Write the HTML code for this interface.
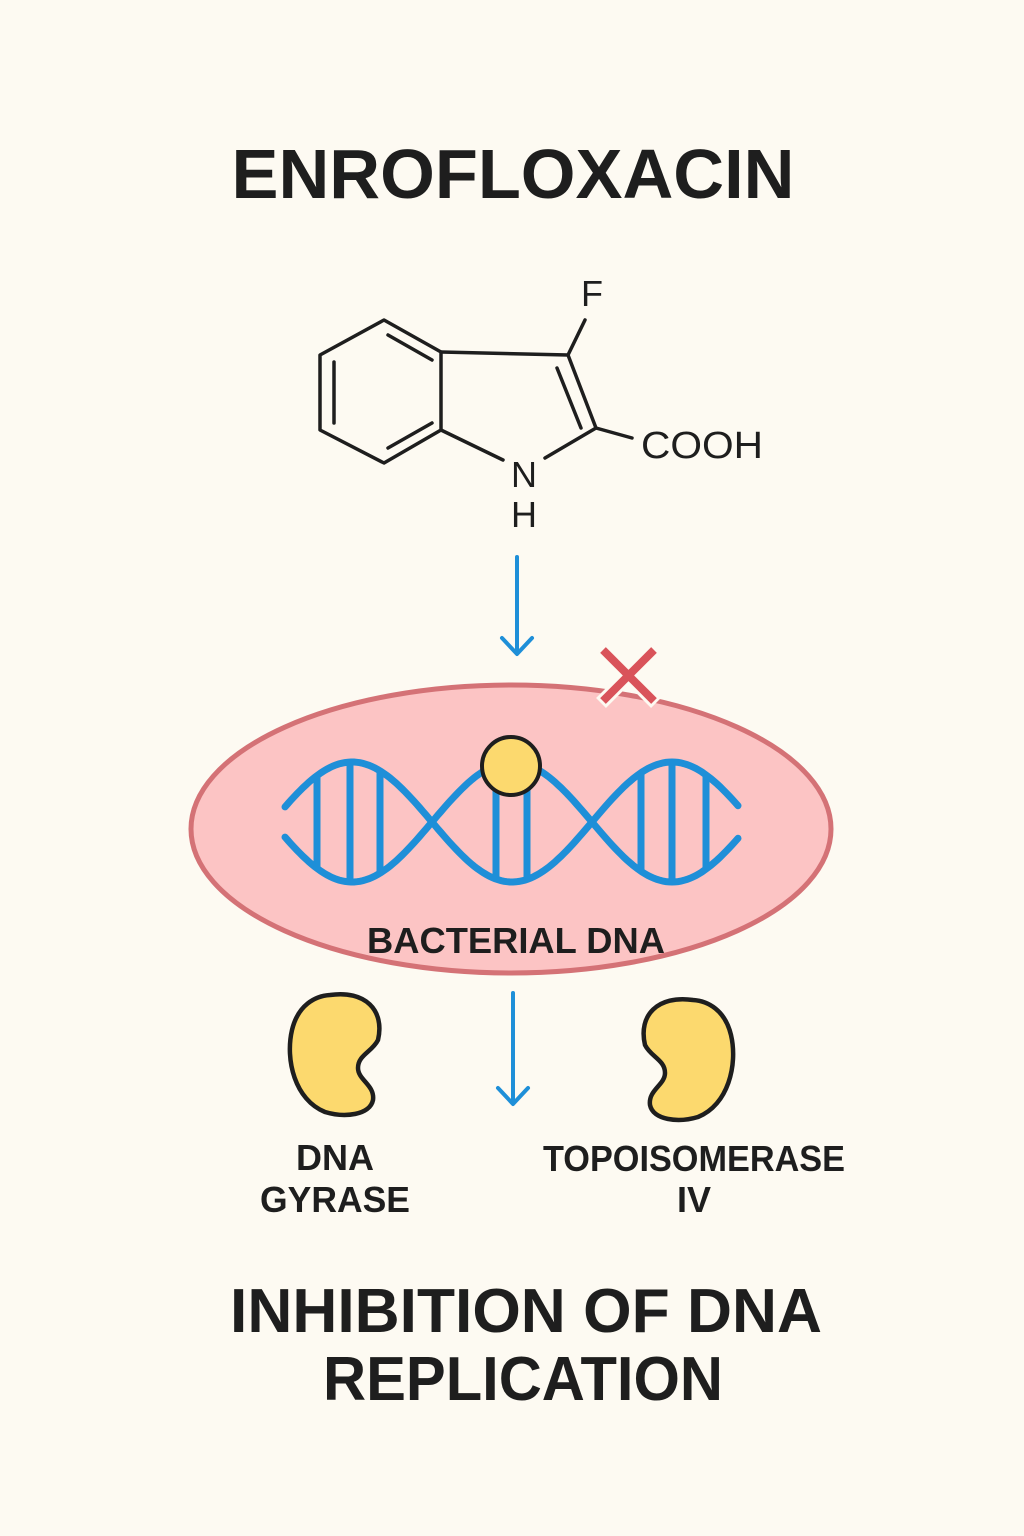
<!DOCTYPE html>
<html><head><meta charset="utf-8"><style>
html,body{margin:0;padding:0;background:#fdfaf2;}
svg{display:block;}
text{font-family:"Liberation Sans",sans-serif;font-weight:bold;fill:#1e1e1e;}
text.n{font-weight:normal;}
</style></head><body>
<svg id="s" width="1024" height="1536" viewBox="0 0 1024 1536" xmlns="http://www.w3.org/2000/svg">
<rect width="1024" height="1536" fill="#fdfaf2"/>
<text x="513" y="198" font-size="70" text-anchor="middle" textLength="563" lengthAdjust="spacingAndGlyphs">ENROFLOXACIN</text>
<g fill="none" stroke="#1e1e1e" stroke-width="3.5" stroke-linejoin="round" stroke-linecap="round">
<polygon points="320,355 384,320 441,352 441,430 384,463 320,430"/>
<line x1="334" y1="362" x2="334" y2="423"/>
<line x1="388" y1="335" x2="432" y2="360"/>
<line x1="388" y1="448" x2="432" y2="423"/>
<polyline points="441,352 568,355 596,428 545,458"/>
<line x1="441" y1="430" x2="503" y2="460"/>
<line x1="557" y1="368" x2="581" y2="428"/>
<line x1="568" y1="355" x2="585" y2="320"/>
<line x1="596" y1="428" x2="632" y2="438"/>
</g>
<text class="n" x="592" y="306" font-size="36" text-anchor="middle">F</text>
<text class="n" x="702" y="458" font-size="38" text-anchor="middle" textLength="122" lengthAdjust="spacingAndGlyphs">COOH</text>
<text class="n" x="524" y="487" font-size="36" text-anchor="middle">N</text>
<text class="n" x="524" y="527" font-size="36" text-anchor="middle">H</text>
<g stroke="#1e8fd8" stroke-width="4" fill="none" stroke-linecap="round" stroke-linejoin="round">
<line x1="517" y1="557" x2="517" y2="653"/>
<polyline points="502,638 517,654 532,638"/>
<line x1="513" y1="993" x2="513" y2="1103"/>
<polyline points="498,1088 513,1104 528,1088"/>
</g>
<ellipse cx="511" cy="829" rx="320" ry="144" fill="#fcc4c4" stroke="#d47276" stroke-width="5"/>
<g stroke="#fdfaf2" stroke-width="14" stroke-linecap="butt">
<line x1="601" y1="648" x2="656" y2="703"/><line x1="656" y1="648" x2="601" y2="703"/>
</g>
<g stroke="#d9535a" stroke-width="8">
<line x1="603" y1="650" x2="654" y2="701"/><line x1="654" y1="650" x2="603" y2="701"/>
</g>
<g id="dna" stroke="#1e8fd8" stroke-width="7" fill="none" stroke-linecap="round"></g>
<ellipse cx="511" cy="766" rx="29" ry="29" fill="#fcd96e" stroke="#1e1e1e" stroke-width="4"/>
<text x="516" y="953" font-size="36" text-anchor="middle" textLength="298" lengthAdjust="spacingAndGlyphs">BACTERIAL DNA</text>
<g fill="#fcd96e" stroke="#1e1e1e" stroke-width="4.5">
<path d="M330,995 C365,990 385,1010 378,1040 C372,1052 358,1055 358,1068 C358,1080 375,1085 373,1100 C370,1115 345,1118 325,1112 C295,1100 285,1060 292,1030 C298,1005 315,996 330,995 Z"/>
<path d="M330,995 C365,990 385,1010 378,1040 C372,1052 358,1055 358,1068 C358,1080 375,1085 373,1100 C370,1115 345,1118 325,1112 C295,1100 285,1060 292,1030 C298,1005 315,996 330,995 Z" transform="translate(1023,5) scale(-1,1)"/>
</g>
<text x="335" y="1170" font-size="36" text-anchor="middle">DNA</text>
<text x="335" y="1212" font-size="36" text-anchor="middle" textLength="150" lengthAdjust="spacingAndGlyphs">GYRASE</text>
<text x="694" y="1171" font-size="36" text-anchor="middle" textLength="302" lengthAdjust="spacingAndGlyphs">TOPOISOMERASE</text>
<text x="694" y="1212" font-size="36" text-anchor="middle">IV</text>
<text x="526" y="1332" font-size="62" text-anchor="middle" textLength="592" lengthAdjust="spacingAndGlyphs">INHIBITION OF DNA</text>
<text x="523" y="1400" font-size="62" text-anchor="middle" textLength="400" lengthAdjust="spacingAndGlyphs">REPLICATION</text>
</svg>
<script>
(function(){
var g=document.getElementById('dna');var ns='http://www.w3.org/2000/svg';
function y(x,s){return 822+s*60*Math.cos(2*Math.PI*(x-352)/320);}
[-1,1].forEach(function(s){var d='';for(var x=285;x<=740;x+=3){d+=(x==285?'M':'L')+x+','+y(x,s).toFixed(1)+' ';}
var p=document.createElementNS(ns,'path');p.setAttribute('d',d);g.appendChild(p);});
[317,350,380,496,527,641,672,706].forEach(function(x){var a=y(x,1),b=y(x,-1);
var l=document.createElementNS(ns,'line');l.setAttribute('x1',x);l.setAttribute('x2',x);
l.setAttribute('y1',Math.min(a,b));l.setAttribute('y2',Math.max(a,b));l.setAttribute('stroke-linecap','butt');g.appendChild(l);});
})();
</script>
</body></html>
